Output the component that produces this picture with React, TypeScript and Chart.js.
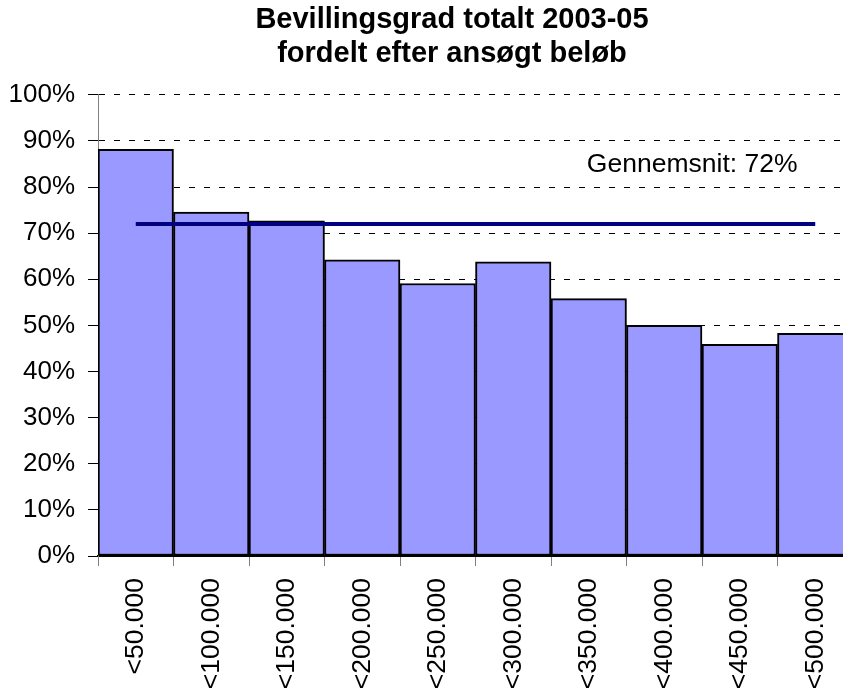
import React, { useEffect, useRef } from "react";
import { Chart, registerables } from "chart.js";

Chart.register(...registerables);

const categories = ["<50.000", "<100.000", "<150.000", "<200.000", "<250.000", "<300.000", "<350.000", "<400.000", "<450.000", "<500.000"];
const grantRate = [88.2, 74.6, 72.7, 64.2, 59.1, 63.8, 55.8, 50.0, 45.9, 48.3];
const averageRate = 72;
const averageLabel = "Gennemsnit: 72%";
const averageLabelPos = { index: 7.37, value: 84.8 };
const titleLines = ["Bevillingsgrad totalt 2003-05", "fordelt efter ansøgt beløb"];

const FONT = "'Liberation Sans', Arial, sans-serif";

export default function App() {
  const ref = useRef<HTMLCanvasElement | null>(null);

  useEffect(() => {
    if (!ref.current) return;
    const labelPlugin = {
      id: "avgLabel",
      afterDatasetsDraw(chart: any) {
        const { ctx, scales } = chart;
        const x = scales.x.getPixelForValue(averageLabelPos.index);
        const y = scales.y.getPixelForValue(averageLabelPos.value);
        ctx.save();
        ctx.font = `26.5px ${FONT}`;
        ctx.fillStyle = "#000";
        ctx.textAlign = "center";
        ctx.textBaseline = "middle";
        ctx.fillText(averageLabel, x, y);
        ctx.restore();
      },
    };
    const chart = new Chart(ref.current, {
      type: "bar",
      data: {
        labels: categories,
        datasets: [
          {
            type: "line",
            data: categories.map(() => averageRate),
            borderColor: "#000080",
            borderWidth: 4,
            pointRadius: 0,
            fill: false,
            order: 0,
          } as any,
          {
            type: "bar",
            data: grantRate,
            backgroundColor: "#9999FF",
            borderColor: "#000000",
            borderWidth: 2,
            borderSkipped: false,
            categoryPercentage: 1,
            barPercentage: 1,
            order: 1,
          },
        ],
      },
      options: {
        animation: false,
        responsive: false,
        maintainAspectRatio: false,
        layout: { padding: { left: 8, right: 0, top: 0, bottom: 0 } },
        plugins: {
          legend: { display: false },
          tooltip: { enabled: false },
          title: {
            display: true,
            text: titleLines,
            color: "#000",
            font: { family: FONT, size: 29, weight: "bold", lineHeight: 1.17 },
            padding: { top: 3, bottom: 24 },
          },
        },
        scales: {
          x: {
            offset: true,
            grid: {
              offset: true,
              drawOnChartArea: false,
              drawTicks: true,
              tickLength: 10,
              color: "#808080",
            },
            border: { display: true, color: "#000", width: 2 },
            ticks: {
              color: "#000",
              font: { family: FONT, size: 26.5 },
              maxRotation: 90,
              minRotation: 90,
              padding: 12,
              autoSkip: false,
            },
            afterFit: (s: any) => {
              s.height = 144;
            },
          },
          y: {
            min: 0,
            max: 100,
            grid: {
              color: "#000",
              lineWidth: 1,
              tickLength: 10,
              tickBorderDash: [],
            },
            border: { display: true, color: "#808080", width: 1, dash: [6, 9] },
            ticks: {
              stepSize: 10,
              color: "#000",
              font: { family: FONT, size: 26 },
              padding: 13,
              callback: (v: any) => v + "%",
            },
            afterFit: (s: any) => {
              s.width = 90;
            },
          },
          yR: {
            position: "right",
            display: true,
            grid: { display: false, drawTicks: false },
            border: { display: false },
            ticks: { display: false },
            afterFit: (s: any) => {
              s.width = 43;
            },
          },
        },
      },
      plugins: [labelPlugin],
    } as any);
    return () => chart.destroy();
  }, []);

  return (
    <div style={{ position: "fixed", left: 0, top: 0, width: 843, height: 688, overflow: "hidden", background: "#fff" }}>
      <canvas ref={ref} width={896} height={700} style={{ display: "block", width: 896, height: 700 }} />
    </div>
  );
}
